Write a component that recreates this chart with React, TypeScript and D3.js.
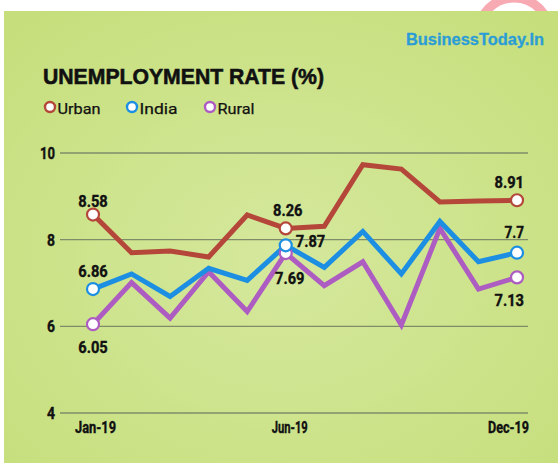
import * as d3 from 'd3'

const months = ['Jan', 'Feb', 'Mar', 'Apr', 'May', 'Jun', 'Jul', 'Aug', 'Sep', 'Oct', 'Nov', 'Dec']
const urban = [8.58, 7.7, 7.74, 7.6, 8.57, 8.26, 8.31, 9.73, 9.63, 8.87, 8.89, 8.91]
const india = [6.86, 7.21, 6.69, 7.34, 7.06, 7.87, 7.36, 8.19, 7.21, 8.42, 7.49, 7.7]
const rural = [6.05, 7.01, 6.19, 7.26, 6.34, 7.69, 6.94, 7.49, 6.03, 8.26, 6.86, 7.13]
const yTicks = [4, 6, 8, 10]
const xTickLabels = ['Jan-19', 'Jun-19', 'Dec-19']
const markedMonths = ['Jan', 'Jun', 'Dec']

const width = 558
const height = 463
const narrow = "Roboto, 'Liberation Sans', sans-serif"

const series = [
  { name: 'Urban', values: urban, color: '#b4473a' },
  { name: 'Rural', values: rural, color: '#ad5cc2' },
  { name: 'India', values: india, color: '#1d8fe3' },
]

// label placement at Jan / Jun / Dec: [dx, dy, anchor]
const labelPos: Record<string, [number, number, string][]> = {
  Urban: [[0, -8, 'middle'], [2, -12, 'middle'], [7, -12, 'end']],
  India: [[0, -12, 'middle'], [10, 2, 'start'], [7, -15, 'end']],
  Rural: [[0, 29, 'middle'], [4, 31, 'middle'], [7, 29, 'end']],
}

const App = () => {
  const x = d3.scalePoint<string>().domain(months).range([93, 517])
  const y = d3.scaleLinear().domain([4, 10]).range([413, 153])

  const line = d3
    .line<number>()
    .x((_, i) => x(months[i]) as number)
    .y(d => y(d))

  const legend = [
    { name: 'Urban', color: '#b4473a', cx: 50, len: 43 },
    { name: 'India', color: '#1d8fe3', cx: 132, len: 38 },
    { name: 'Rural', color: '#ad5cc2', cx: 210, len: 37 },
  ]

  return (
    <svg width={width} height={height} style={{ position: 'absolute', left: 0, top: 0 }}>
      <defs>
        <radialGradient id="bg" cx="0.5" cy="0.55" r="0.7">
          <stop offset="0" stopColor="#d5e89d" />
          <stop offset="1" stopColor="#c6df7c" />
        </radialGradient>
      </defs>
      <rect width={width} height={height} fill="#fff" />
      <circle cx={514} cy={34} r={36} fill="none" stroke="#f7aab2" strokeWidth={9} />
      <rect x={4} y={11} width={width - 4} height={height - 11} fill="url(#bg)" />

      <text x={406} y={45} fontFamily="'Liberation Sans', Arial, sans-serif" fontWeight="bold" fontSize={17} fill="#2b9dd6" stroke="#2b9dd6" strokeWidth={0.3} textLength={138} lengthAdjust="spacingAndGlyphs">
        BusinessToday.In
      </text>
      <text x={43} y={84} fontFamily="'Liberation Sans', Arial, sans-serif" fontWeight="bold" fontSize={22.5} fill="#111" stroke="#111" strokeWidth={0.6} textLength={281} lengthAdjust="spacingAndGlyphs">
        UNEMPLOYMENT RATE (%)
      </text>

      {legend.map(l => (
        <g key={l.name}>
          <circle cx={l.cx} cy={107} r={5} fill="#fff" stroke={l.color} strokeWidth={2.4} />
          <text x={l.cx + 7.5} y={114} fontFamily={narrow} fontSize={15.5} fill="#111" stroke="#111" strokeWidth={0.25} textLength={l.len} lengthAdjust="spacingAndGlyphs">
            {l.name}
          </text>
        </g>
      ))}

      {yTicks.map(t => (
        <g key={t}>
          <line x1={60} x2={528} y1={y(t)} y2={y(t)} stroke="#7f8c6a" strokeWidth={1.3} />
          <text x={55} y={y(t) + 6} textAnchor="end" fontFamily={narrow} fontWeight="bold" fontSize={16.5} fill="#111" stroke="#111" strokeWidth={0.4} textLength={t >= 10 ? 15 : 8} lengthAdjust="spacingAndGlyphs">
            {t}
          </text>
        </g>
      ))}

      {xTickLabels.map((label, k) => {
        const m = label.slice(0, 3)
        const anchorX = k === 0 ? 75 : k === 2 ? 529 : (x(m) as number) + 4
        const anchor = k === 0 ? 'start' : k === 2 ? 'end' : 'middle'
        return (
          <text key={label} x={anchorX} y={433} textAnchor={anchor} fontFamily={narrow} fontWeight="bold" fontSize={16} fill="#111" stroke="#111" strokeWidth={0.4} textLength={k === 1 ? 36 : 41} lengthAdjust="spacingAndGlyphs">
            {label}
          </text>
        )
      })}

      {series.map(s => (
        <path key={s.name} d={line(s.values) || ''} fill="none" stroke={s.color} strokeWidth={5} strokeLinejoin="miter" />
      ))}

      {series.map(s =>
        markedMonths.map((m, k) => {
          const i = months.indexOf(m)
          const [dx, dy, anchor] = labelPos[s.name][k]
          const cx = x(m) as number
          const cy = y(s.values[i])
          const label = String(s.values[i])
          return (
            <g key={s.name + m}>
              <circle cx={cx} cy={cy} r={6} fill="#fff" stroke={s.color} strokeWidth={2.2} />
              <text x={cx + dx} y={cy + dy} textAnchor={anchor} fontFamily={narrow} fontWeight="bold" fontSize={16.5} fill="#111" stroke="#111" strokeWidth={0.4} textLength={label.length > 3 ? 29.5 : 19.5} lengthAdjust="spacingAndGlyphs">
                {label}
              </text>
            </g>
          )
        })
      )}
    </svg>
  )
}

export default App
